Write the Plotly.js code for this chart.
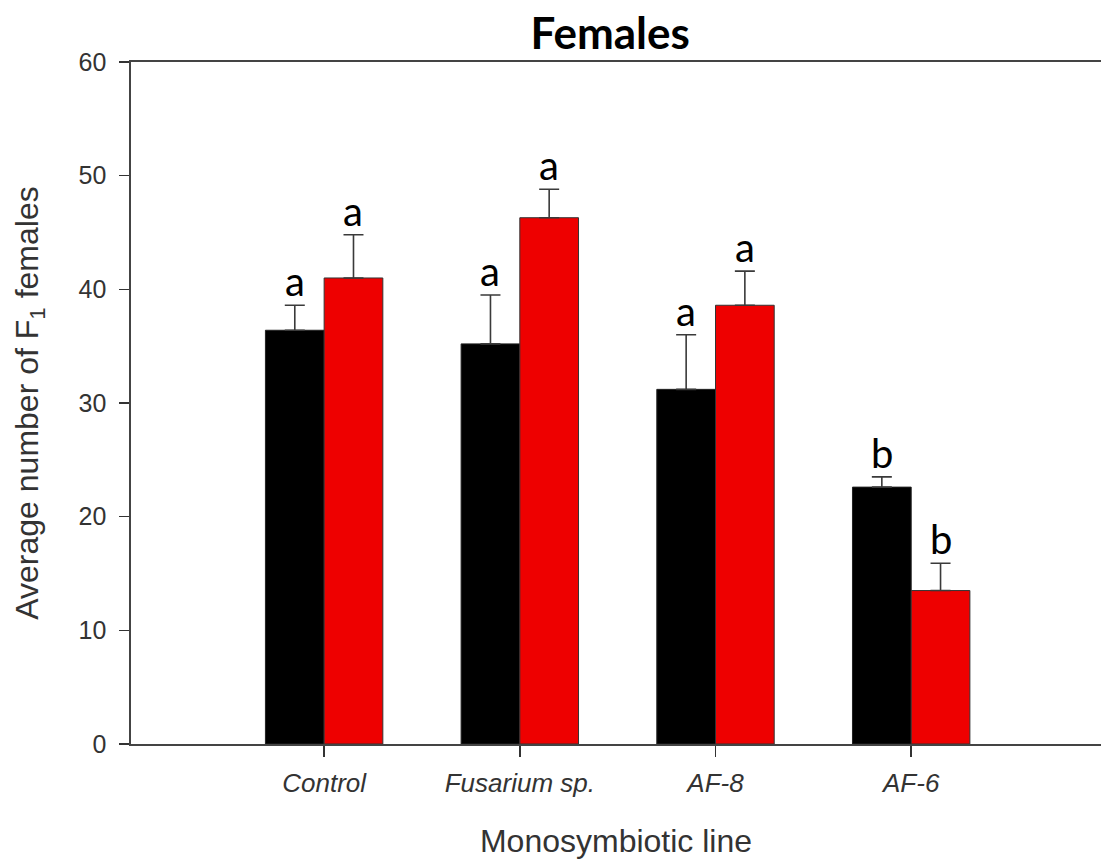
<!DOCTYPE html>
<html>
<head>
<meta charset="utf-8">
<script src="https://cdn.plot.ly/plotly-3.0.1.min.js"></script>
<style>
  html, body { margin: 0; padding: 0; background: #fff; }
  #chart { width: 1101px; height: 863px; }
</style>
</head>
<body>
<div id="chart"></div>
<script>
// Monosymbiotic lines on the x axis
const categories = ["Control", "Fusarium sp.", "AF-8", "AF-6"];

// Average number of F1 females, two series per line
const blackMeans = [36.4, 35.2, 31.2, 22.6];
const blackErrors = [2.2, 4.3, 4.8, 0.9];
const redMeans = [41.0, 46.3, 38.6, 13.5];
const redErrors = [3.8, 2.5, 3.0, 2.4];

// Significance letters over each bar
const blackLetters = ["a", "a", "a", "b"];
const redLetters = ["a", "a", "a", "b"];

const errStyle = { color: "#3a3a3a", thickness: 1.6, width: 10 };
const letterFont = { family: "Lato, 'Open Sans', sans-serif", size: 40, color: "#000" };
const axisFont = "Liberation Sans, Arial, sans-serif";

const traces = [
  {
    type: "bar", x: categories, y: blackMeans, name: "black",
    marker: { color: "#000000", line: { color: "#222", width: 1 } },
    error_y: Object.assign({ type: "data", symmetric: false, array: blackErrors, arrayminus: blackErrors.map(() => 0) }, errStyle)
  },
  {
    type: "bar", x: categories, y: redMeans, name: "red",
    marker: { color: "#ee0000", line: { color: "#333", width: 1 } },
    error_y: Object.assign({ type: "data", symmetric: false, array: redErrors, arrayminus: redErrors.map(() => 0) }, errStyle)
  }
];

// Letters sit just above each error cap; each bar is offset from its category centre
const annotations = [];
const barOffset = 0.15;
categories.forEach((c, i) => {
  annotations.push({
    x: i - barOffset, y: blackMeans[i] + blackErrors[i], xref: "x", yref: "y",
    text: blackLetters[i], showarrow: false, yanchor: "bottom", yshift: -2,
    font: letterFont
  });
  annotations.push({
    x: i + barOffset, y: redMeans[i] + redErrors[i], xref: "x", yref: "y",
    text: redLetters[i], showarrow: false, yanchor: "bottom", yshift: -2,
    font: letterFont
  });
});

const layout = {
  width: 1101, height: 863,
  margin: { l: 131, r: 0, t: 62, b: 119 },
  paper_bgcolor: "#fff", plot_bgcolor: "#fff",
  showlegend: false,
  barmode: "group", bargap: 0.4, bargroupgap: 0,
  title: {
    text: "<b>Females</b>",
    font: { family: "Lato, 'Open Sans', sans-serif", size: 44, color: "#000" },
    x: 0.494, xanchor: "center", xref: "paper",
    y: 0.961, yanchor: "middle", yref: "container"
  },
  xaxis: {
    type: "category",
    range: [-0.987, 3.97],
    showline: true, linecolor: "#444", linewidth: 1.6, mirror: true,
    ticks: "outside", ticklen: 11, tickwidth: 1.4, tickcolor: "#333",
    tickfont: { family: axisFont, size: 26, color: "#333", style: "italic" },
    ticklabelstandoff: 4,
    showgrid: false, zeroline: false,
    title: {
      text: "Monosymbiotic line", standoff: 33,
      font: { family: axisFont, size: 32, color: "#333" }
    }
  },
  yaxis: {
    range: [0, 60], tickvals: [0, 10, 20, 30, 40, 50, 60],
    showline: true, linecolor: "#444", linewidth: 1.6,
    ticks: "outside", ticklen: 10, tickwidth: 1.4, tickcolor: "#333",
    tickfont: { family: axisFont, size: 25, color: "#333" },
    ticklabelstandoff: 8,
    showgrid: false, zeroline: false,
    title: {
      text: "Average number of F<sub>1</sub> females", standoff: 30,
      font: { family: axisFont, size: 32, color: "#333" }
    }
  },
  annotations: annotations
};

Plotly.newPlot("chart", traces, layout, { displayModeBar: false, staticPlot: true });
</script>
</body>
</html>
